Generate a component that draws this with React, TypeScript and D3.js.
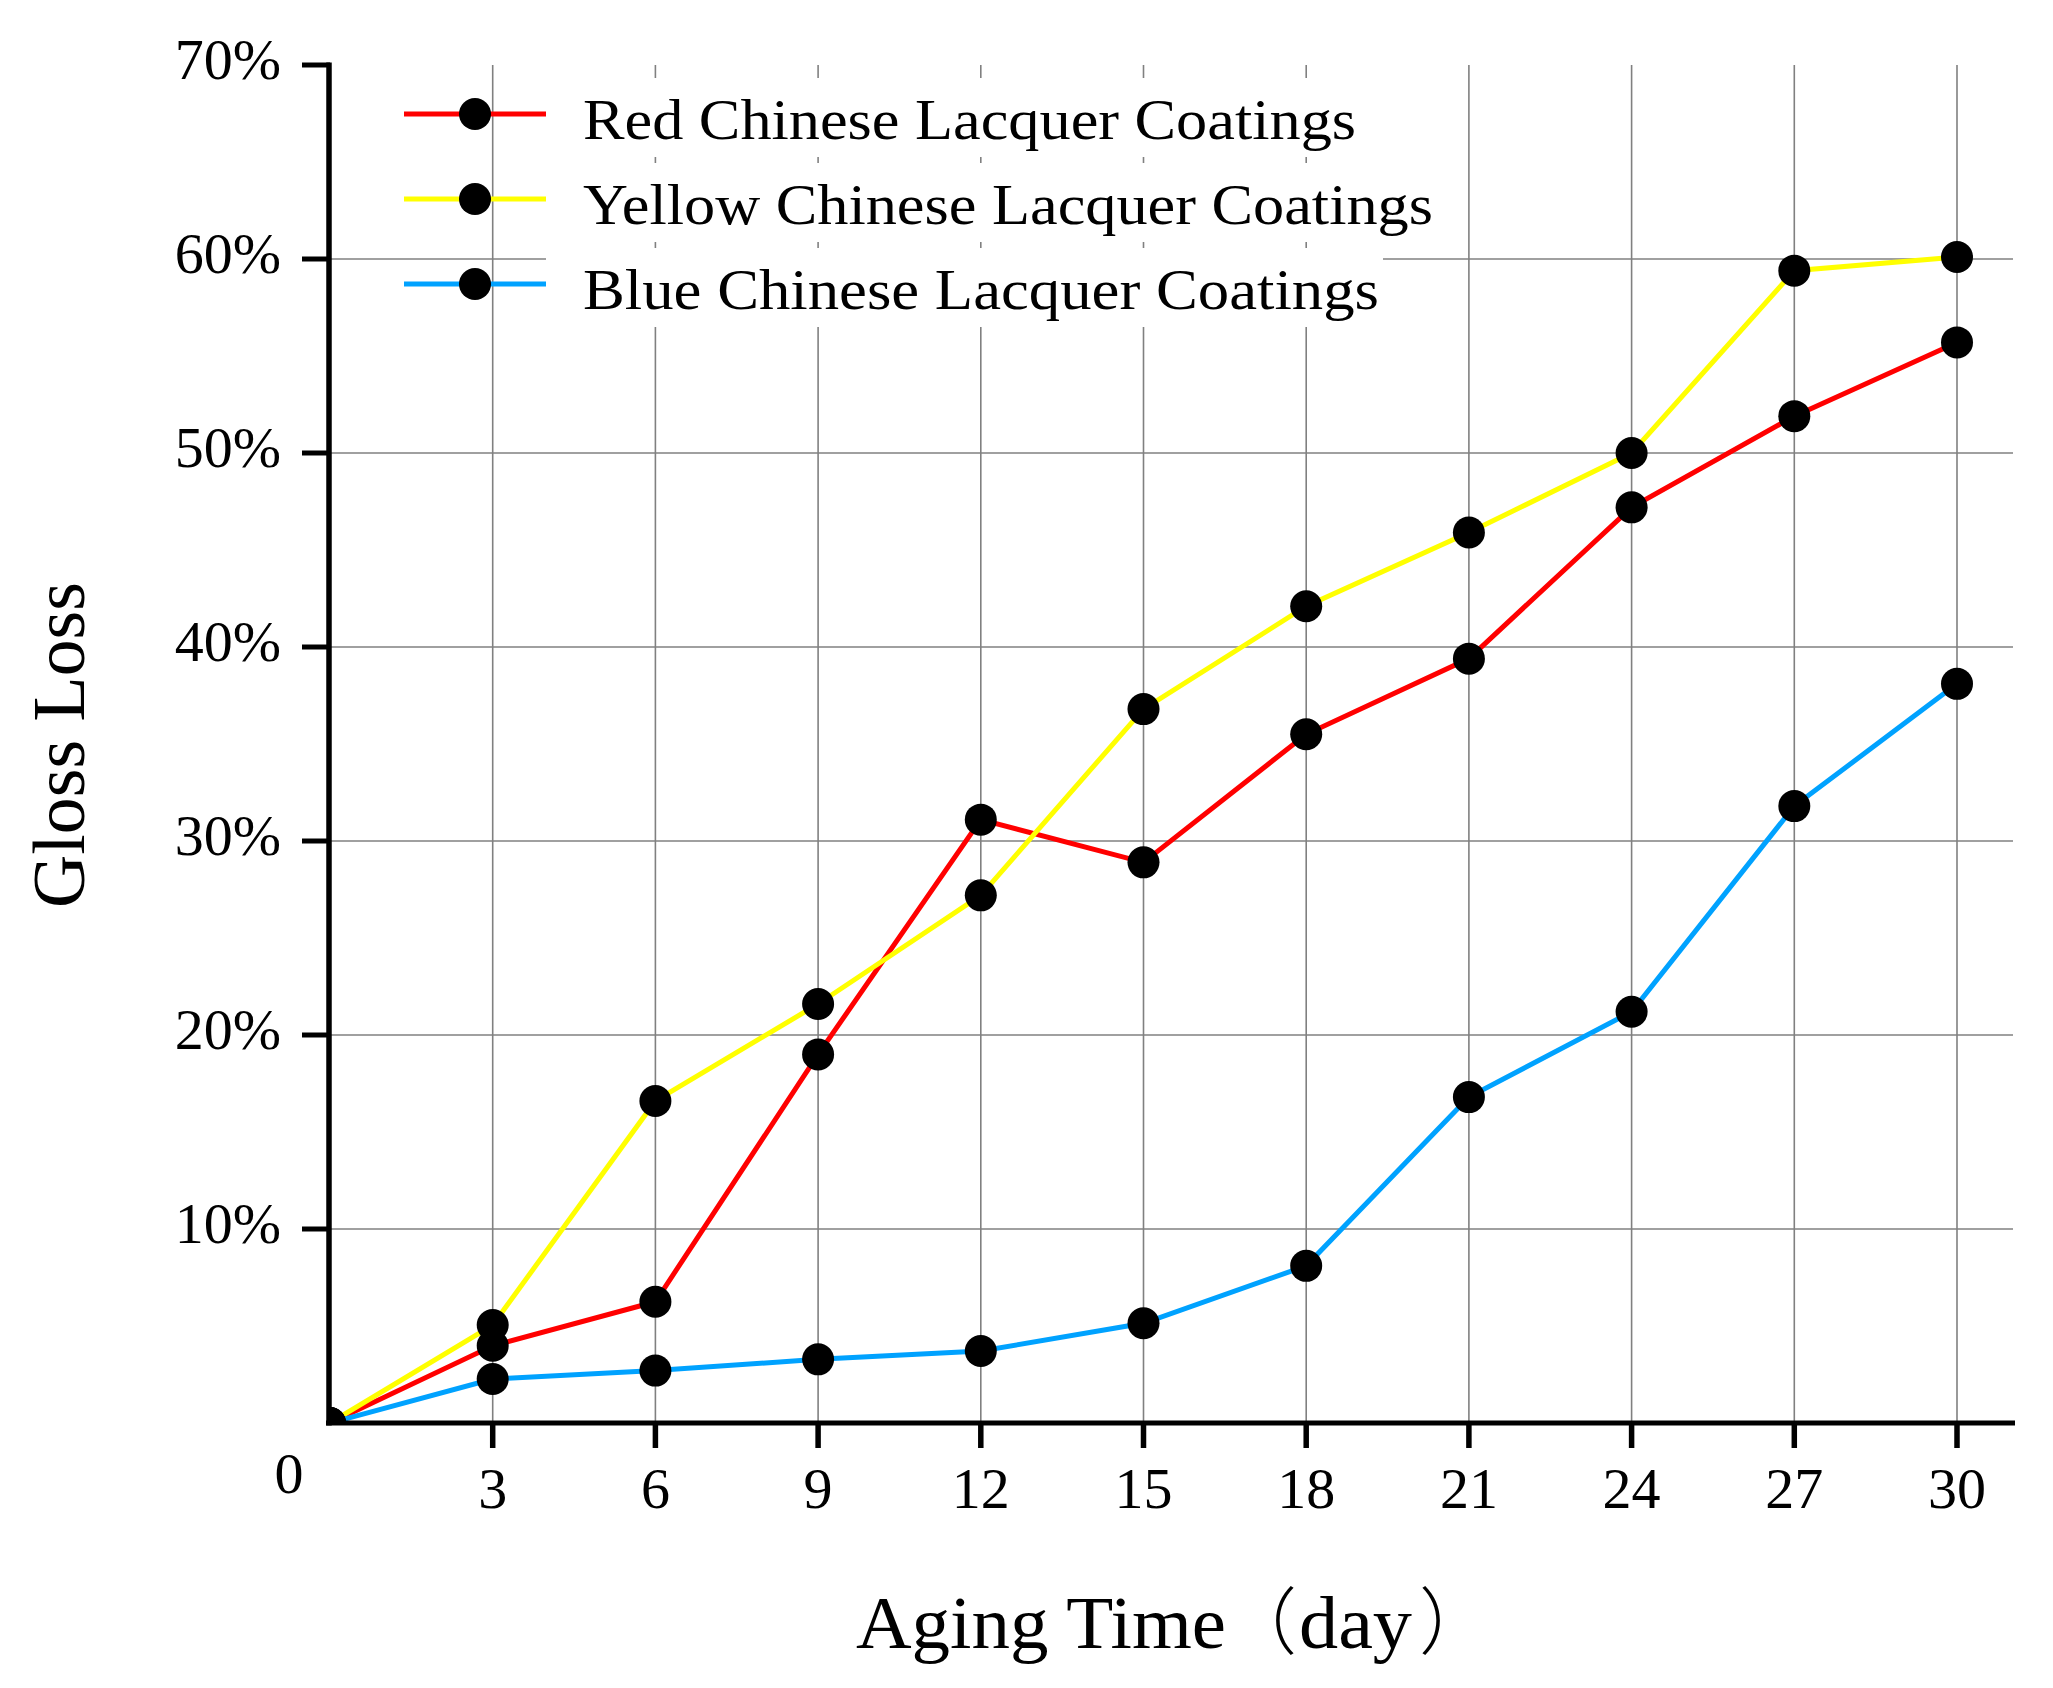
import { useEffect, useRef } from "react";
import * as d3 from "d3";

// aging time in days
const days = [0, 3, 6, 9, 12, 15, 18, 21, 24, 27, 30];
// gloss loss, %
const redLoss = [0, 3.98, 6.25, 19.0, 31.1, 28.9, 35.5, 39.4, 47.2, 51.9, 55.7];
const yellowLoss = [0, 5.05, 16.6, 21.6, 27.2, 36.8, 42.1, 45.9, 50.0, 59.4, 60.1];
const blueLoss = [0, 2.27, 2.7, 3.28, 3.71, 5.14, 8.1, 16.8, 21.2, 31.8, 38.1];

const seriesNames = [
  "Red Chinese Lacquer Coatings",
  "Yellow Chinese Lacquer Coatings",
  "Blue Chinese Lacquer Coatings",
];
const seriesColors = ["#ff0000", "#ffff00", "#00a2ff"];

const xTicks = [3, 6, 9, 12, 15, 18, 21, 24, 27, 30];
const yTicks = [10, 20, 30, 40, 50, 60, 70];

const W = 2053;
const H = 1688;
const FONT = "'Liberation Serif', 'Times New Roman', serif";

export default function App() {
  const svgRef = useRef<SVGSVGElement>(null);

  useEffect(() => {
    if (!svgRef.current) return;
    const svg = d3.select(svgRef.current);
    svg.selectAll("*").remove();

    const left = 330;
    const right = 2013;
    const top = 65;
    const bottom = 1423;

    const x = d3.scaleLinear().domain([0, 30]).range([left, 1957]);
    const y = d3.scaleLinear().domain([0, 70]).range([bottom, top]);

    svg.append("rect").attr("width", W).attr("height", H).attr("fill", "#fff");

    svg.append("defs")
      .append("clipPath")
      .attr("id", "plot-clip")
      .append("rect")
      .attr("x", left)
      .attr("y", top - 20)
      .attr("width", right - left)
      .attr("height", bottom - top + 20);

    // grid
    const grid = svg.append("g").attr("stroke", "#808080").attr("stroke-width", 1.6);
    grid.selectAll(".hg")
      .data(yTicks.filter(t => t < 70))
      .enter()
      .append("line")
      .attr("x1", left)
      .attr("x2", right)
      .attr("y1", d => y(d))
      .attr("y2", d => y(d));
    grid.selectAll(".vg")
      .data(xTicks)
      .enter()
      .append("line")
      .attr("x1", d => x(d))
      .attr("x2", d => x(d))
      .attr("y1", top)
      .attr("y2", bottom);

    // legend, each entry has its own white box over the grid
    const legend = svg.append("g").attr("font-family", FONT);
    seriesNames.forEach((name, i) => {
      const my = 114 + i * 85;
      const tw = [773, 850, 796][i];
      legend.append("rect")
        .attr("x", 546)
        .attr("y", my - 36)
        .attr("width", 583 + tw + 4 - 546)
        .attr("height", 79)
        .attr("fill", "#fff");
      legend.append("text")
        .attr("x", 583)
        .attr("y", my + 25)
        .attr("font-size", 57)
        .attr("fill", "#000")
        .attr("textLength", tw)
        .attr("lengthAdjust", "spacingAndGlyphs")
        .text(name);
      legend.append("line")
        .attr("x1", 404)
        .attr("x2", 546)
        .attr("y1", my)
        .attr("y2", my)
        .attr("stroke", seriesColors[i])
        .attr("stroke-width", 5);
      legend.append("circle")
        .attr("cx", 475)
        .attr("cy", my)
        .attr("r", 16)
        .attr("fill", "#000");
    });

    // series
    const series = [redLoss, yellowLoss, blueLoss];
    const plot = svg.append("g").attr("clip-path", "url(#plot-clip)");
    const line = d3.line<number>()
      .x((_, i) => x(days[i]))
      .y(d => y(d));
    series.forEach((vals, i) => {
      plot.append("path")
        .datum(vals)
        .attr("d", line)
        .attr("fill", "none")
        .attr("stroke", seriesColors[i])
        .attr("stroke-width", 5);
    });
    series.forEach(vals => {
      plot.selectAll(null)
        .data(vals)
        .enter()
        .append("circle")
        .attr("cx", (_, j) => x(days[j]))
        .attr("cy", d => y(d))
        .attr("r", 16)
        .attr("fill", "#000");
    });

    // axes
    const axes = svg.append("g").attr("stroke", "#000");
    axes.append("line")
      .attr("x1", left - 1)
      .attr("x2", left - 1)
      .attr("y1", top - 2.5)
      .attr("y2", bottom + 2.5)
      .attr("stroke-width", 5.5);
    axes.append("line")
      .attr("x1", left - 4)
      .attr("x2", right + 2)
      .attr("y1", bottom)
      .attr("y2", bottom)
      .attr("stroke-width", 5);
    axes.selectAll(".yt")
      .data(yTicks)
      .enter()
      .append("line")
      .attr("x1", left - 28)
      .attr("x2", left)
      .attr("y1", d => y(d))
      .attr("y2", d => y(d))
      .attr("stroke-width", 5);
    axes.selectAll(".xt")
      .data(xTicks)
      .enter()
      .append("line")
      .attr("x1", d => x(d))
      .attr("x2", d => x(d))
      .attr("y1", bottom)
      .attr("y2", bottom + 25)
      .attr("stroke-width", 5.5);

    const labels = svg.append("g").attr("font-family", FONT).attr("fill", "#000");
    labels.selectAll(".yl")
      .data(yTicks)
      .enter()
      .append("text")
      .attr("x", 281)
      .attr("y", d => y(d) + 14)
      .attr("text-anchor", "end")
      .attr("font-size", 58)
      .text(d => `${d}%`);
    labels.selectAll(".xl")
      .data(xTicks)
      .enter()
      .append("text")
      .attr("x", d => x(d))
      .attr("y", 1508)
      .attr("text-anchor", "middle")
      .attr("font-size", 58)
      .text(d => d);
    labels.append("text")
      .attr("x", 289)
      .attr("y", 1493)
      .attr("text-anchor", "middle")
      .attr("font-size", 58)
      .text("0");

    // x title: "Aging Time（day）"
    const xt = labels.append("text").attr("y", 1648).attr("font-size", 73);
    xt.append("tspan")
      .attr("x", 856)
      .attr("textLength", 370)
      .attr("lengthAdjust", "spacingAndGlyphs")
      .text("Aging Time");
    xt.append("tspan")
      .attr("x", 1224)
      .attr("font-family", "'Noto Sans CJK SC', sans-serif")
      .attr("font-weight", 300)
      .text("（");
    xt.append("tspan")
      .attr("x", 1299)
      .attr("textLength", 113)
      .attr("lengthAdjust", "spacingAndGlyphs")
      .text("day");
    xt.append("tspan")
      .attr("x", 1419)
      .attr("font-family", "'Noto Sans CJK SC', sans-serif")
      .attr("font-weight", 300)
      .text("）");

    labels.append("text")
      .attr("transform", "translate(84,745) rotate(-90)")
      .attr("text-anchor", "middle")
      .attr("font-size", 74)
      .attr("textLength", 326)
      .attr("lengthAdjust", "spacingAndGlyphs")
      .text("Gloss Loss");
  }, []);

  return (
    <svg
      ref={svgRef}
      width={W}
      height={H}
      style={{ position: "absolute", left: 0, top: 0, display: "block" }}
    />
  );
}
